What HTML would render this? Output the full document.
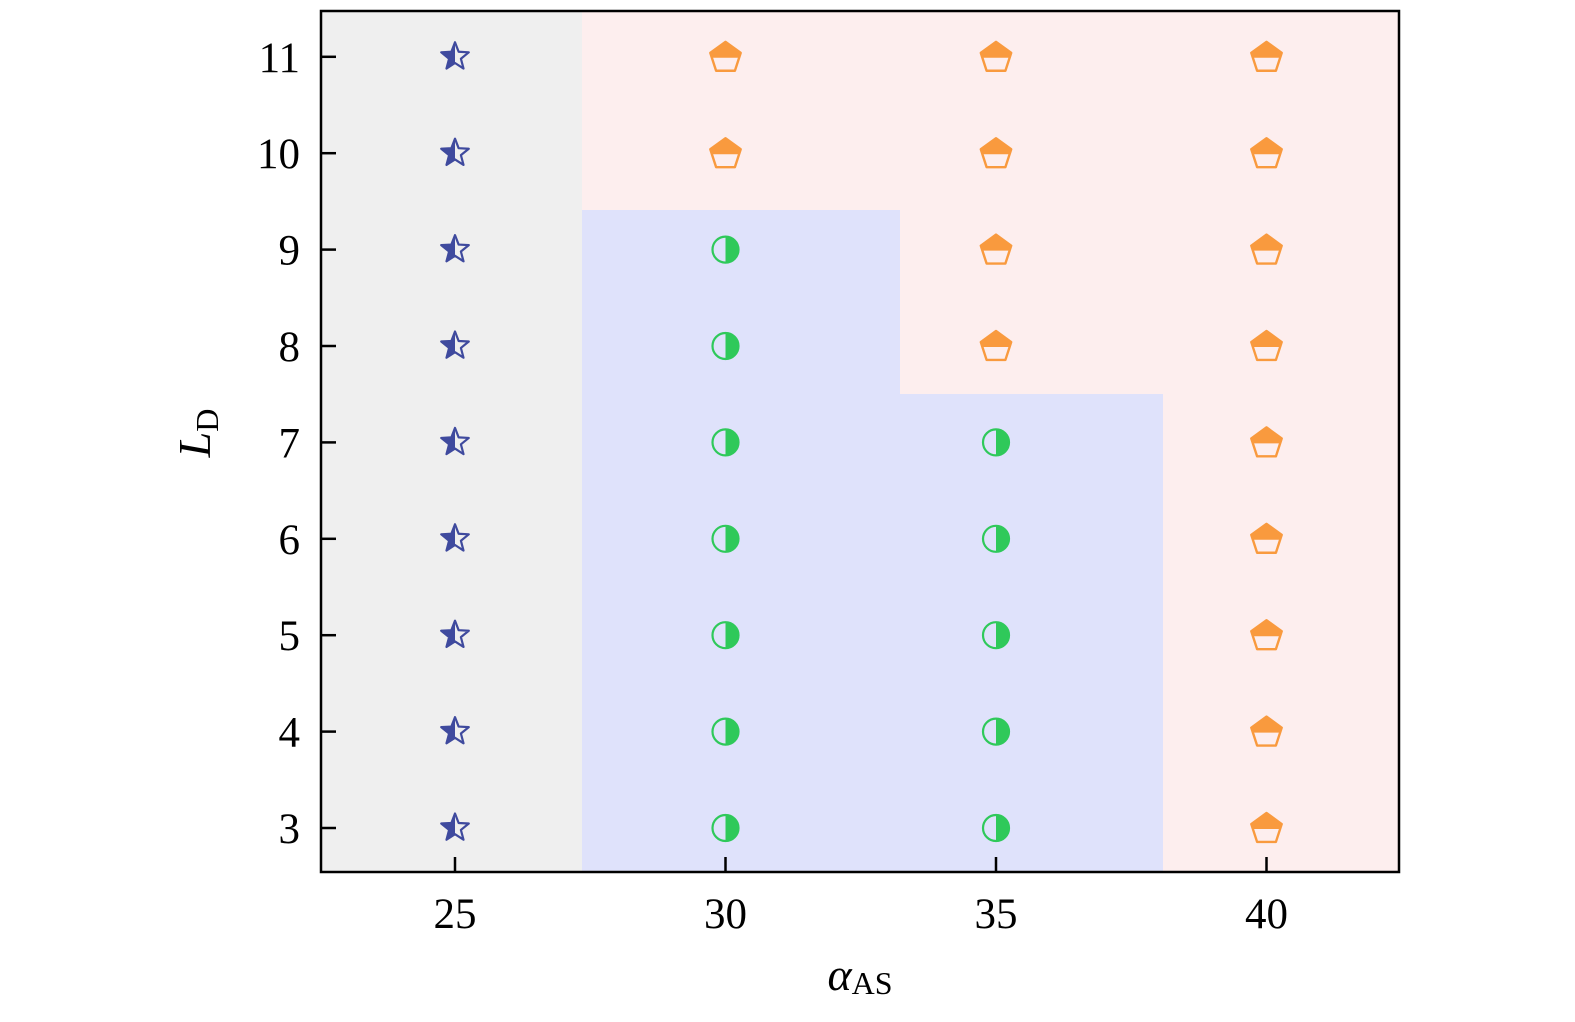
<!DOCTYPE html>
<html><head><meta charset="utf-8"><style>
html,body{margin:0;padding:0;background:#fff;}
svg{display:block;}
text{font-family:"Liberation Serif",serif;fill:#000;}
</style></head><body>
<svg id="s" width="1575" height="1022" xmlns="http://www.w3.org/2000/svg">
<defs>
<clipPath id="cl"><rect x="-20" y="-20" width="20" height="40"/></clipPath>
<clipPath id="ct"><rect x="-20" y="-20" width="40" height="21"/></clipPath>
<clipPath id="cr"><rect x="0" y="-20" width="20" height="40"/></clipPath>
</defs>
<rect x="321" y="11" width="261" height="861" fill="#efefef"/>
<rect x="582" y="11" width="817" height="199" fill="#fdeeee"/>
<rect x="582" y="210" width="318" height="662" fill="#dfe2fb"/>
<rect x="900" y="394" width="263" height="478" fill="#dfe2fb"/>
<rect x="900" y="210" width="263" height="184" fill="#fdeeee"/>
<rect x="1163" y="210" width="236" height="662" fill="#fdeeee"/>
<g id="m"></g>
<g id="ax" stroke="#000" stroke-width="2.5" fill="none">
<rect x="321" y="11" width="1078" height="861"/>
</g>
<g id="lab" font-size="43"></g>
<text x="217" y="440" font-size="46" font-style="italic" transform="rotate(-90 210 440)" text-anchor="middle">L<tspan font-style="normal" font-size="32" dy="8">D</tspan></text>
<text x="860" y="990" font-size="46" text-anchor="middle"><tspan font-style="italic">α</tspan><tspan font-size="32" dy="4">AS</tspan></text>
</svg>
<script>
const NS="http://www.w3.org/2000/svg";
const m=document.getElementById('m'),ax=document.getElementById('ax'),lab=document.getElementById('lab');
function el(t,a,p){const e=document.createElementNS(NS,t);for(const k in a)e.setAttribute(k,a[k]);p.appendChild(e);return e;}
const X=v=>455+(v-25)*54.1, Y=v=>828-(v-3)*96.4;
function star(){let p=[];for(let i=0;i<10;i++){const r=i%2?6.2:14.5,a=-Math.PI/2+i*Math.PI/5;p.push((r*Math.cos(a)).toFixed(2)+','+(r*Math.sin(a)).toFixed(2));}return p.join(' ');}
function pent(){let p=[];for(let i=0;i<5;i++){const a=-Math.PI/2+i*2*Math.PI/5;p.push((16*Math.cos(a)).toFixed(2)+','+(16*Math.sin(a)+1).toFixed(2));}return p.join(' ');}
const S=star(),P=pent();
function mark(x,L){const g=el('g',{transform:`translate(${X(x)},${Y(L)})`},m);
 let type;
 if(x==25)type='s';else if(L>=10)type='p';else if(x==30)type='c';else if(x==35)type=L>=8?'p':'c';else type='p';
 if(type=='s'){el('polygon',{points:S,fill:'#3f4a9e','clip-path':'url(#cl)'},g);el('polygon',{points:S,fill:'none',stroke:'#3f4a9e','stroke-width':2.2,'stroke-linejoin':'round'},g);}
 else if(type=='p'){el('polygon',{points:P,fill:'#f99a3e','clip-path':'url(#ct)'},g);el('polygon',{points:P,fill:'none',stroke:'#f99a3e','stroke-width':2.4,'stroke-linejoin':'round'},g);}
 else{el('circle',{r:13.5,fill:'#2fc95a','clip-path':'url(#cr)'},g);el('circle',{r:13,fill:'none',stroke:'#2fc95a','stroke-width':2.2},g);}
}
for(const x of [25,30,35,40])for(let L=3;L<=11;L++)mark(x,L);
for(const x of [25,30,35,40]){const px=X(x);el('line',{x1:px,x2:px,y1:872,y2:857},ax);el('text',{x:px,y:928,'text-anchor':'middle'},lab).textContent=x;}
for(let L=3;L<=11;L++){const py=Y(L);el('line',{x1:321,x2:336,y1:py,y2:py},ax);el('text',{x:300,y:py+15,'text-anchor':'end'},lab).textContent=L;}
</script>
</body></html>
